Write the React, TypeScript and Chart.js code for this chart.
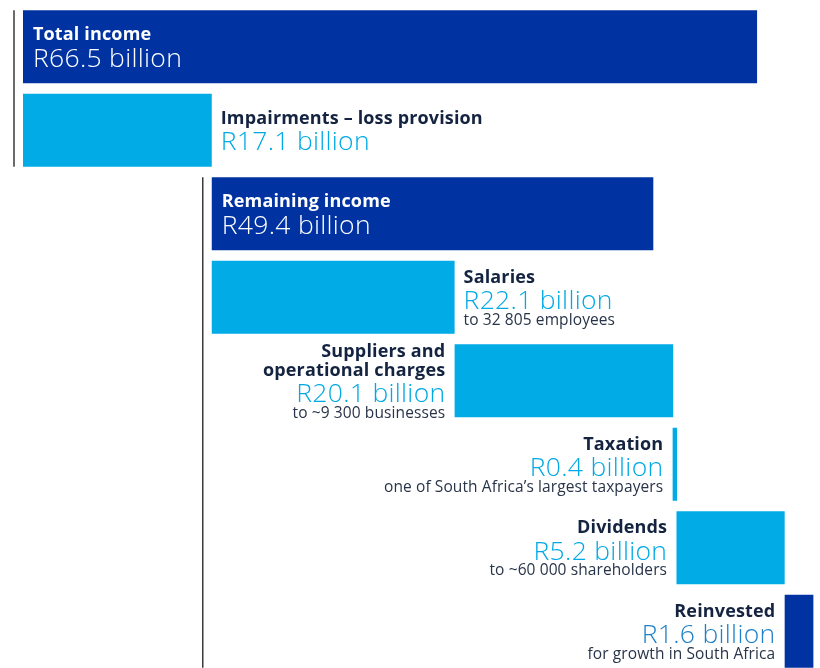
import React, { useEffect, useRef } from "react";
import { Chart, registerables } from "chart.js";

Chart.register(...registerables);

// ---- data ----
const categories = [
  "Total income",
  "Impairments – loss provision",
  "Remaining income",
  "Salaries",
  "Suppliers and operational charges",
  "Taxation",
  "Dividends",
  "Reinvested",
];
// Stated amounts (R billion)
const amounts = [66.5, 17.1, 49.4, 22.1, 20.1, 0.4, 5.2, 1.6];
// Bar extents as drawn in the picture (R billion on the x scale)
const barStart = [0, 0, 17.1, 17.1, 39.1, 58.85, 59.2, 69.0];
const barEnd = [66.5, 17.1, 57.1, 39.1, 58.9, 59.25, 69.0, 71.6];
const titleLines = [
  ["Total income"],
  ["Impairments – loss provision"],
  ["Remaining income"],
  ["Salaries"],
  ["Suppliers and", "operational charges"],
  ["Taxation"],
  ["Dividends"],
  ["Reinvested"],
];
const subtitles = [
  "",
  "",
  "",
  "to 32 805 employees",
  "to ~9 300 businesses",
  "one of South Africa’s largest taxpayers",
  "to ~60 000 shareholders",
  "for growth in South Africa",
];
const kinds = ["total", "cost", "total", "cost", "cost", "cost", "cost", "total"];

// ---- styles ----
const DARK = "#0033a1";
const LIGHT = "#00abe6";
const TITLE_COLOR = "#132340";
const SUB_COLOR = "#283449";
const VALUE_COLOR = "#00a9e4";
const placement = ["inside", "right", "inside", "right", "left", "left", "left", "left"];
const valueColors = [
  "#ffffff", VALUE_COLOR, "#ffffff", VALUE_COLOR, VALUE_COLOR, VALUE_COLOR, VALUE_COLOR, "#1f80c6",
];

const FONT = "'Open Sans', Roboto, sans-serif";

const labelPlugin = {
  id: "waterfallLabels",
  afterDatasetsDraw(chart: any) {
    const ctx = chart.ctx as CanvasRenderingContext2D;
    const meta = chart.getDatasetMeta(0);
    const els = meta.data as any[];
    ctx.save();
    // connector lines
    const lineAt = (fromIdx: number, toIdx: number) => {
      const a = els[fromIdx].getProps(["x", "y", "base", "height"], true);
      const b = els[toIdx].getProps(["x", "y", "base", "height"], true);
      const x = Math.min(a.base, a.x) - 9;
      ctx.strokeStyle = "#3a3a3a";
      ctx.lineWidth = 1.5;
      ctx.beginPath();
      ctx.moveTo(x, a.y - a.height / 2);
      ctx.lineTo(x, b.y + b.height / 2);
      ctx.stroke();
    };
    lineAt(0, 1);
    lineAt(2, els.length - 1);

    els.forEach((el: any, i: number) => {
      const p = el.getProps(["x", "y", "base", "height"], true);
      const left = Math.min(p.base, p.x);
      const right = Math.max(p.base, p.x);
      const center = p.y;
      const lines: { text: string; font: string; color: string; gap: number; ls: number }[] = [];
      const inside = placement[i] === "inside";
      titleLines[i].forEach((t, k) => {
        lines.push({
          text: t,
          font: `bold 18px ${FONT}`,
          color: inside ? "#ffffff" : TITLE_COLOR,
          gap: k === 0 ? 0 : 18.5,
          ls: 0.15,
        });
      });
      lines.push({
        text: `R${amounts[i].toFixed(1)} billion`,
        font: `300 26.5px ${FONT}`,
        color: valueColors[i],
        gap: 26.5,
        ls: 0.3,
      });
      if (subtitles[i]) {
        lines.push({ text: subtitles[i], font: `15.5px ${FONT}`, color: SUB_COLOR, gap: 15.5, ls: 0.1 });
      }
      const capH = 13;
      const total = capH + lines.reduce((s, l) => s + l.gap, 0);
      let baseline = center - total / 2 + capH;
      let x: number;
      let align: CanvasTextAlign;
      if (placement[i] === "inside") {
        x = left + 10;
        align = "left";
      } else if (placement[i] === "right") {
        x = right + 9;
        align = "left";
      } else {
        x = left - 9.5;
        align = "right";
      }
      ctx.textAlign = align;
      ctx.textBaseline = "alphabetic";
      lines.forEach((l) => {
        baseline += l.gap;
        ctx.font = l.font;
        (ctx as any).letterSpacing = `${l.ls}px`;
        ctx.fillStyle = l.color;
        ctx.fillText(l.text, align === "right" ? x + l.ls : x, baseline);
      });
    });
    ctx.restore();
  },
};

export default function App() {
  const ref = useRef<HTMLCanvasElement | null>(null);
  useEffect(() => {
    if (!ref.current) return;
    const chart = new Chart(ref.current, {
      type: "bar",
      data: {
        labels: categories,
        datasets: [
          {
            data: categories.map((_, i) => [barStart[i], barEnd[i]]) as any,
            backgroundColor: kinds.map((k) => (k === "total" ? DARK : LIGHT)),
            borderWidth: 0,
            borderSkipped: false,
            barPercentage: 0.874,
            categoryPercentage: 1,
          },
        ],
      },
      options: {
        indexAxis: "y",
        responsive: false,
        animation: false,
        layout: { padding: { left: 23, right: 0, top: 5, bottom: 1 } },
        scales: {
          x: { type: "linear", min: 0, max: 72.2, display: false },
          y: { display: false },
        },
        plugins: {
          legend: { display: false },
          tooltip: { enabled: false },
        },
      },
      plugins: [labelPlugin],
    });
    return () => chart.destroy();
  }, []);
  return (
    <div
      style={{
        position: "fixed",
        left: 0,
        top: 0,
        width: 820,
        height: 668,
        overflow: "hidden",
        background: "#ffffff",
      }}
    >
      <canvas ref={ref} width={820} height={674} style={{ display: "block" }} />
    </div>
  );
}
